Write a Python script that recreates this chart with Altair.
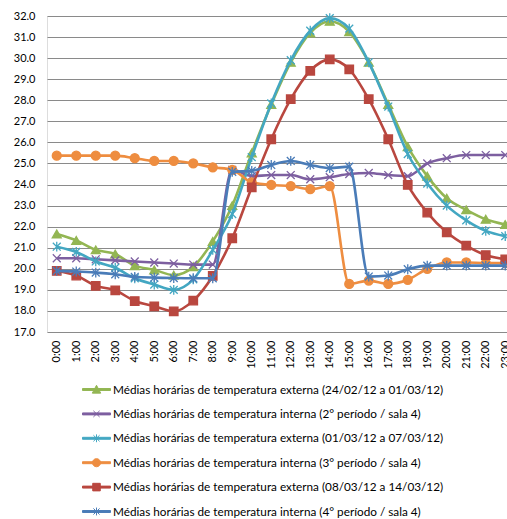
import altair as alt
import pandas as pd

hours = ["0:00", "1:00", "2:00", "3:00", "4:00", "5:00", "6:00", "7:00", "8:00", "9:00",
         "10:00", "11:00", "12:00", "13:00", "14:00", "15:00", "16:00", "17:00", "18:00",
         "19:00", "20:00", "21:00", "22:00", "23:00"]

series_names = [
    "Médias horárias de temperatura externa (24/02/12 a 01/03/12)",
    "Médias horárias de temperatura interna (2° período / sala 4)",
    "Médias horárias de temperatura externa (01/03/12 a 07/03/12)",
    "Médias horárias de temperatura interna (3° período / sala 4)",
    "Médias horárias de temperatura externa (08/03/12 a 14/03/12)",
    "Médias horárias de temperatura interna (4° período / sala 4)",
]

ext_2402 = [21.65, 21.35, 20.9, 20.7, 20.15, 19.95, 19.7, 20.1, 21.3, 23.0, 25.5, 27.8,
            29.8, 31.2, 31.75, 31.25, 29.8, 27.8, 25.8, 24.4, 23.35, 22.8, 22.35, 22.1]
int_p2 = [20.5, 20.5, 20.45, 20.4, 20.35, 20.3, 20.25, 20.2, 20.2, 24.7, 24.4, 24.45,
          24.45, 24.25, 24.35, 24.5, 24.55, 24.45, 24.4, 25.0, 25.25, 25.4, 25.4, 25.4]
ext_0103 = [21.05, 20.8, 20.35, 20.05, 19.55, 19.25, 19.0, 19.5, 20.9, 22.6, 25.3, 27.85,
            29.9, 31.3, 31.9, 31.4, 29.8, 27.7, 25.45, 24.05, 23.0, 22.3, 21.8, 21.55]
int_p3 = [25.37, 25.37, 25.37, 25.37, 25.25, 25.12, 25.12, 25.0, 24.82, 24.7, 24.1, 23.98,
          23.93, 23.78, 23.92, 19.28, 19.44, 19.28, 19.48, 20.0, 20.3, 20.3, 20.27, 20.27]
ext_0803 = [19.9, 19.68, 19.19, 18.98, 18.47, 18.22, 17.98, 18.49, 19.66, 21.45, 23.87, 26.15,
            28.05, 29.4, 29.94, 29.47, 28.05, 26.15, 23.98, 22.67, 21.73, 21.1, 20.65, 20.45]
int_p4 = [19.9, 19.87, 19.82, 19.74, 19.62, 19.58, 19.56, 19.55, 19.55, 24.6, 24.65, 24.93,
          25.12, 24.93, 24.78, 24.85, 19.63, 19.68, 19.98, 20.15, 20.15, 20.15, 20.15, 20.15]

values = [ext_2402, int_p2, ext_0103, int_p3, ext_0803, int_p4]
colors = ["#93B653", "#7D5FA0", "#43A7C2", "#EE8D40", "#B9473F", "#4A7CB8"]

# marker shapes in the plot (unit space [-1, 1])
X_PATH = "M-1,-1L1,1M-1,1L1,-1"
AST_PATH = "M-1,-1L1,1M-1,1L1,-1M0,-1.25L0,1.25"
plot_shapes = ["triangle-up", X_PATH, AST_PATH, "circle", "square", AST_PATH]
plot_sizes = [80, 62, 62, 80, 72, 62]

# legend symbols: a line segment with the marker
BAR = "M-1,-0.07H1V0.07H-1Z"
legend_shapes = [
    BAR + "M-0.3,0.26L0,-0.3L0.3,0.26Z",
    BAR + "M-0.22,-0.22L0.22,0.22M-0.22,0.22L0.22,-0.22",
    BAR + "M-0.22,-0.22L0.22,0.22M-0.22,0.22L0.22,-0.22M0,-0.28L0,0.28",
    BAR + "M0.29,0A0.29,0.29,0,1,1,-0.29,0A0.29,0.29,0,1,1,0.29,0Z",
    BAR + "M-0.27,-0.27H0.27V0.27H-0.27Z",
    BAR + "M-0.22,-0.22L0.22,0.22M-0.22,0.22L0.22,-0.22M0,-0.28L0,0.28",
]

rows = []
for name, vals in zip(series_names, values):
    for h, v in zip(hours, vals):
        rows.append({"hora": h, "temp": v, "serie": name})
df = pd.DataFrame(rows)

x_enc = alt.X("hora:O", sort=hours,
              scale=alt.Scale(type="point", padding=0.5, range=[0, 468]),
              axis=alt.Axis(title=None, labelAngle=270, domain=False, ticks=False, grid=False,
                            labelFont="Lato", labelFontSize=11, labelColor="#000000",
                            labelPadding=8))
y_enc = alt.Y("temp:Q", scale=alt.Scale(domain=[17, 32], nice=False, zero=False),
              axis=alt.Axis(title=None, values=list(range(17, 33)), format=".1f",
                            domain=False, ticks=False, grid=True, gridColor="#8a8a8a",
                            gridWidth=1, labelFont="Lato", labelFontSize=11,
                            labelColor="#000000", labelPadding=12))

base = alt.Chart(df)
layers = []
for name, col, shp, sz in zip(series_names, colors, plot_shapes, plot_sizes):
    sub = base.transform_filter(alt.datum.serie == name)
    layers.append(sub.mark_line(color=col, strokeWidth=2.6, interpolate="monotone")
                  .encode(x=x_enc, y=y_enc))
    layers.append(sub.mark_point(shape=shp, size=sz, strokeWidth=1.3, opacity=1,
                                 fillOpacity=1, strokeOpacity=1)
                  .encode(x=x_enc, y=y_enc, fill=alt.value(col), stroke=alt.value(col)))

leg = alt.Legend(title=None, orient="none", legendX=35, legendY=359, direction="vertical",
                 labelFont="Lato", labelFontSize=11.75, labelColor="#000000",
                 symbolSize=784, symbolStrokeWidth=1, labelOffset=2, rowPadding=2.4,
                 padding=0, labelLimit=0, symbolOpacity=1, symbolFillColor="#000000")
legend_layer = base.mark_point(opacity=0, size=784, strokeWidth=1).encode(
    x=x_enc, y=y_enc,
    fill=alt.Fill("serie:N", scale=alt.Scale(domain=series_names, range=colors), legend=leg),
    stroke=alt.Stroke("serie:N", scale=alt.Scale(domain=series_names, range=colors), legend=leg),
    shape=alt.Shape("serie:N", scale=alt.Scale(domain=series_names, range=legend_shapes), legend=leg),
)
layers.append(legend_layer)

chart = alt.layer(*layers).properties(
    width=460, height=316,
    autosize=alt.AutoSizeParams(type="none"),
    padding={"left": 47, "top": 16, "right": 0, "bottom": 187},
).configure_view(stroke=None).configure(background="white")

chart.save("out.html", embed_options={"renderer": "svg", "actions": False})
